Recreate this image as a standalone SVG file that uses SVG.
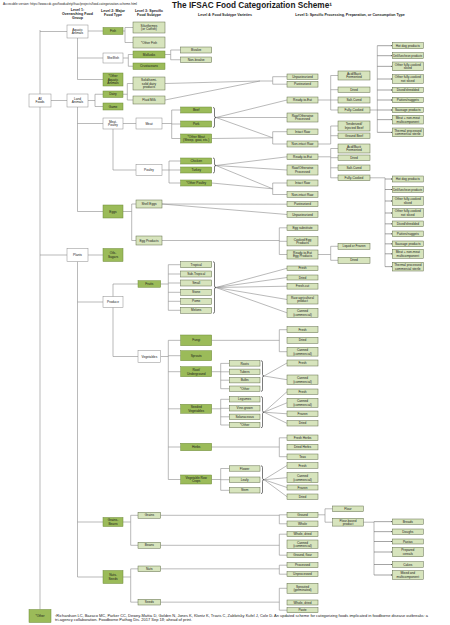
<svg xmlns="http://www.w3.org/2000/svg" width="450" height="625" viewBox="0 0 450 625">
<defs>
<style>
text{font-family:"Liberation Sans",Arial,sans-serif;fill:#1a1a1a}
.t{font-size:3.2px;text-anchor:middle}
.h{font-size:3.6px;font-weight:bold;text-anchor:middle}
.dg{fill:#9bbb59;stroke:#6e8a3a;stroke-width:.5}
.lg{fill:#d7e4bd;stroke:#5f6b48;stroke-width:.5}
.wh{fill:#fff;stroke:#8a8a8a;stroke-width:.5}
.c path{fill:none;stroke:#8c8c8c;stroke-width:.6}
.c path.b{stroke:#222}
.c path.a{stroke:#666;marker-end:url(#ar)}
</style>
<marker id="ar" viewBox="0 0 6 6" refX="6" refY="3" markerWidth="3" markerHeight="3" orient="auto"><path d="M0,0L6,3L0,6z" fill="#444"/></marker>
</defs>
<rect width="450" height="625" fill="#fff"/>
<text x="3" y="4.5" font-size="2.6" textLength="134" lengthAdjust="spacingAndGlyphs">Accessible version: https://www.cdc.gov/foodsafety/ifsac/projects/food-categorization-scheme.html</text>
<text x="172" y="8.3" font-size="8.4" font-weight="bold" textLength="160" lengthAdjust="spacingAndGlyphs">The IFSAC Food Categorization Scheme¹</text>
<g id="headers">
<text class="h" x="77.5" y="11">Level 1:<tspan x="77.5" dy="4">Overarching Food</tspan><tspan x="77.5" dy="4">Group</tspan></text>
<text class="h" x="113" y="12">Level 2: Major<tspan x="113" dy="4">Food Type</tspan></text>
<text class="h" x="149" y="12">Level 3: Specific<tspan x="149" dy="4">Food Subtype</tspan></text>
<text class="h" x="225" y="16">Level 4: Food Subtype Varieties</text>
<text class="h" x="350" y="16">Level 5: Specific Processing, Preparation, or Consumption Type</text>
</g>
<g id="connectors" class="c">
<path d="M40,30V609.5M40,31.5H67M51,100.5H67M40,255H67"/>
<path d="M88,31H103M77.5,38V79.5M77.5,58H103M77.5,79.5H103"/>
<path d="M123,31H125M125,27.5V42.5M125,27.5H133M125,42.5H133"/>
<path d="M123,58H128.3M128.3,54.5V66.25M128.3,54.5H133M128.3,66.25H133"/>
<path d="M165,54.5H170.7M170.7,50V59.75M170.7,50H180.7M170.7,59.75H180.7"/>
<path d="M88,100.5H95M95,94.25V106.5M95,94.25H103M95,106.5H103"/>
<path d="M77.5,107V211.5M77.5,123.5H103M77.5,211.5H103"/>
<path d="M123,94.25H127.3M127.3,83.5V100M127.3,83.5H133M127.3,100H133"/>
<path d="M165,83.5L260,81M165,100L260,81M260,81H272.7M272.7,76.7V84.2M272.7,76.7H287M272.7,84.2H287"/>
<path d="M123,123.5H136M113,129V170M113,170H136"/>
<path d="M162,123.5H171.7M171.7,110V138.5M171.7,110H180.7M171.7,124H180.7M171.7,138.5H180.7"/>
<path class="b" d="M213,107.5q1.5,0 1.5,1.5V116q0,1.5 1.5,1.5q-1.5,0-1.5,1.5V126q0,1.5-1.5,1.5"/>
<path d="M216,117.5L287,100M216,117.5L287,117.5M216,117.5L272.7,137.8M211.7,138.5L272.7,137.8M272.7,131.7V144M272.7,131.7H287M272.7,144H287"/>
<path d="M318,100H338M330.7,75.5V110M330.7,75.5H338M330.7,89.7H338M330.7,110H338"/>
<path d="M370,110H377.3M377.3,45.7V132.35"/>
<path class="a" d="M377.3,45.7H392.3"/><path class="a" d="M377.3,55.7H392.3"/><path class="a" d="M377.3,66.35H392.3"/><path class="a" d="M377.3,79H392.3"/><path class="a" d="M377.3,90H392.3"/><path class="a" d="M377.3,100H392.3"/><path class="a" d="M377.3,110H392.3"/><path class="a" d="M377.3,119.65H392.3"/><path class="a" d="M377.3,132.35H392.3"/>
<path d="M318,144H330.7M330.7,126V144M330.7,126H338M330.7,135.7H338"/>
<path d="M162,170H169M169,161V183M169,161H180.7M169,170H180.7M169,183H180.7"/>
<path class="b" d="M213,158q1.5,0 1.5,1.5V164q0,1.5 1.5,1.5q-1.5,0-1.5,1.5V171.5q0,1.5-1.5,1.5"/>
<path d="M216,165.5L287,156.8M216,165.5L287,170M216,165.5L272.7,188.8M211.7,183L272.7,188.8M272.7,183V194.5M272.7,183H287M272.7,194.5H287"/>
<path d="M318,156.8H330.7M330.7,148.5V177.8M330.7,148.5H338M330.7,157.7H338M330.7,167.8H338M330.7,177.8H338"/>
<path d="M370,177.8H385M385,177.8V266.65"/>
<path class="a" d="M385,179H392.3"/><path class="a" d="M385,189.5H392.3"/><path class="a" d="M385,201H392.3"/><path class="a" d="M385,213H392.3"/><path class="a" d="M385,223.85H392.3"/><path class="a" d="M385,233.85H392.3"/><path class="a" d="M385,243.85H392.3"/><path class="a" d="M385,253.8H392.3"/><path class="a" d="M385,266.65H392.3"/>
<path d="M123,211.5H131.7M131.7,204V240.5M131.7,204H136M131.7,240.5H136"/>
<path d="M162,204L287,204.2M162,204L287,214.5"/>
<path d="M162,240.5H279.3M279.3,227.8V254.5M279.3,227.8H287M279.3,241.3H287M279.3,254.5H287"/>
<path d="M318,254.5H330.7M330.7,246.3V260.3M330.7,246.3H338M330.7,260.3H338"/>
<path d="M88,255H103M77.5,261.5V577M77.5,302H103M77.5,522H103M77.5,577H103"/>
<path d="M113,284V356.5M113,284H138M113,356.5H138"/>
<path d="M160.7,284H168.3M168.3,264.7V310.3M168.3,264.7H180.7M168.3,274H180.7M168.3,283H180.7M168.3,292.3H180.7M168.3,301.3H180.7M168.3,310.3H180.7"/>
<path class="b" d="M213,261.7q1.5,0 1.5,1.5V286q0,1.5 1.5,1.5q-1.5,0-1.5,1.5V311.8q0,1.5-1.5,1.5"/>
<path d="M216,287.5L287,268.3M216,287.5L287,277.5M216,287.5L287,286.2M216,287.5L287,299.5M216,287.5L287,312.8"/>
<path d="M160.7,356.5H168.3M168.3,340.35V479.5M168.3,340.35H180.7M168.3,355.7H180.7M168.3,371.7H180.7M168.3,408.8H180.7M168.3,447H180.7M168.3,479.5H180.7"/>
<path d="M211.7,340.35H279.3M279.3,329.7V351.7M279.3,329.7H287M279.3,351.7H287"/>
<path d="M211.7,371.7H220.7M220.7,363.4V388.7M220.7,363.4H229.3M220.7,371.8H229.3M220.7,380.2H229.3M220.7,388.7H229.3"/>
<path class="b" d="M261,360.7q1.5,0 1.5,1.5V374.5q0,1.5 1.5,1.5q-1.5,0-1.5,1.5V389.9q0,1.5-1.5,1.5"/>
<path d="M264,376L287,363M264,376L287,379.7"/>
<path d="M211.7,408.8H220.7M220.7,399.3V425M220.7,399.3H229.3M220.7,408.3H229.3M220.7,416.8H229.3M220.7,425H229.3"/>
<path class="b" d="M261,396.6q1.5,0 1.5,1.5V410.7q0,1.5 1.5,1.5q-1.5,0-1.5,1.5V426.2q0,1.5-1.5,1.5"/>
<path d="M264,412.2L287,391.7M264,412.2L287,402.8M264,412.2L287,413.8M264,412.2L287,423.35"/>
<path d="M211.7,447H279.3M279.3,437.8V456.7M279.3,437.8H287M279.3,456.7H287"/>
<path d="M211.7,479.5H220.7M220.7,468.5V490.3M220.7,468.5H229.3M220.7,479.7H229.3M220.7,490.3H229.3"/>
<path class="b" d="M261,465.8q1.5,0 1.5,1.5V478.2q0,1.5 1.5,1.5q-1.5,0-1.5,1.5V492.1q0,1.5-1.5,1.5"/>
<path d="M264,479.7L287,465.5M264,479.7L287,477.7M264,479.7L287,487.5M264,479.7L287,496.7"/>
<path d="M123,522H130.7M130.7,515.3V545.3M130.7,515.3H138M130.7,545.3H138"/>
<path d="M160.7,515.3H279.3M279.3,514.8V523.8M279.3,514.8H287M279.3,523.8H287"/>
<path d="M318,514.8H325M325,508.8V522.2M325,508.8H332.7M325,522.2H332.7"/>
<path d="M363.3,522.2H374M374,521.65V575"/>
<path class="a" d="M374,521.65H392.3"/><path class="a" d="M374,531.65H392.3"/><path class="a" d="M374,541.5H392.3"/><path class="a" d="M374,552H392.3"/><path class="a" d="M374,564.5H392.3"/><path class="a" d="M374,575H392.3"/>
<path d="M160.7,545.3H279.3M279.3,534.2V555.2M279.3,534.2H287M279.3,555.2H287"/>
<path d="M123,577H130.7M130.7,568.85V602.15M130.7,568.85H138M130.7,602.15H138"/>
<path d="M160.7,568.85H279.3M279.3,565.2V574.2M279.3,565.2H287M279.3,574.2H287"/>
<path d="M160.7,602.15H279.3M279.3,588.3V610.2M279.3,588.3H287M279.3,610.2H287"/>
</g>
<g id="all-foods"><rect class="wh" x="29" y="94" width="22" height="13"/><text class="t" x="40" y="99.8">All<tspan x="40" dy="3.6">Foods</tspan></text></g>
<g id="aquatic-animals"><rect class="wh" x="67" y="25" width="21" height="13"/><text class="t" x="77.5" y="30.8">Aquatic<tspan x="77.5" dy="3.6">Animals</tspan></text></g>
<g id="land-animals"><rect class="wh" x="67" y="94" width="21" height="13"/><text class="t" x="77.5" y="99.8">Land<tspan x="77.5" dy="3.6">Animals</tspan></text></g>
<g id="plants"><rect class="wh" x="67" y="248.5" width="21" height="13"/><text class="t" x="77.5" y="256.1">Plants</text></g>
<g id="other"><rect class="dg" x="29" y="609.5" width="22" height="13"/><text class="t" x="40" y="617.1">*Other</text></g>
<g id="fish"><rect class="dg" x="103" y="27.5" width="20" height="7"/><text class="t" x="113" y="32.1">Fish</text></g>
<g id="shellfish"><rect class="wh" x="103" y="53" width="20" height="10"/><text class="t" x="113" y="59.1">Shellfish</text></g>
<g id="other-aquatic"><rect class="dg" x="103" y="73" width="20" height="13"/><text class="t" x="113" y="77">*Other<tspan x="113" dy="3.6">Aquatic</tspan><tspan x="113" dy="3.6">Animals</tspan></text></g>
<g id="dairy"><rect class="dg" x="103" y="91" width="20" height="6.5"/><text class="t" x="113" y="95.35">Dairy</text></g>
<g id="game"><rect class="dg" x="103" y="103" width="20" height="7"/><text class="t" x="113" y="107.6">Game</text></g>
<g id="meat-poultry"><rect class="wh" x="103" y="118" width="20" height="11"/><text class="t" x="113" y="122.8">Meat-<tspan x="113" dy="3.6">Poultry</tspan></text></g>
<g id="eggs"><rect class="dg" x="103" y="205" width="20" height="13"/><text class="t" x="113" y="212.6">Eggs</text></g>
<g id="oils-sugars"><rect class="dg" x="103" y="248.5" width="20" height="13"/><text class="t" x="113" y="254.3">Oils-<tspan x="113" dy="3.6">Sugars</tspan></text></g>
<g id="produce"><rect class="wh" x="103" y="296.5" width="20" height="11"/><text class="t" x="113" y="303.1">Produce</text></g>
<g id="grains-beans"><rect class="dg" x="103" y="517.5" width="20" height="9"/><text class="t" x="113" y="521.3">Grains-<tspan x="113" dy="3.6">Beans</tspan></text></g>
<g id="nuts-seeds"><rect class="dg" x="103" y="570.5" width="20" height="13"/><text class="t" x="113" y="576.3">Nuts-<tspan x="113" dy="3.6">Seeds</tspan></text></g>
<g id="siluriformes"><rect class="lg" x="133" y="22" width="32" height="11"/><text class="t" x="149" y="26.8">Siluriformes<tspan x="149" dy="3.6">(or Catfish)</tspan></text></g>
<g id="other-fish"><rect class="lg" x="133" y="37" width="32" height="11"/><text class="t" x="149" y="43.6">*Other Fish</text></g>
<g id="mollusks"><rect class="dg" x="133" y="51" width="32" height="7"/><text class="t" x="149" y="55.6">Mollusks</text></g>
<g id="crustaceans"><rect class="dg" x="133" y="63" width="32" height="6.5"/><text class="t" x="149" y="67.35">Crustaceans</text></g>
<g id="solid-dairy"><rect class="lg" x="133" y="77" width="32" height="13"/><text class="t" x="149" y="81">Solid/semi-<tspan x="149" dy="3.6">solid dairy</tspan><tspan x="149" dy="3.6">products</tspan></text></g>
<g id="fluid-milk"><rect class="lg" x="133" y="96" width="32" height="8"/><text class="t" x="149" y="101.1">Fluid Milk</text></g>
<g id="meat"><rect class="wh" x="136" y="118" width="26" height="11"/><text class="t" x="149" y="124.6">Meat</text></g>
<g id="poultry"><rect class="wh" x="136" y="164.5" width="26" height="11"/><text class="t" x="149" y="171.1">Poultry</text></g>
<g id="shell-eggs"><rect class="lg" x="136" y="200" width="26" height="8"/><text class="t" x="149" y="205.1">Shell Eggs</text></g>
<g id="egg-products"><rect class="lg" x="136" y="236" width="26" height="9"/><text class="t" x="149" y="241.6">Egg Products</text></g>
<g id="fruits"><rect class="dg" x="138" y="280.7" width="22.7" height="6.6"/><text class="t" x="149.35" y="285.1">Fruits</text></g>
<g id="vegetables"><rect class="wh" x="138" y="350.7" width="22.7" height="11.6"/><text class="t" x="149.35" y="357.6">Vegetables</text></g>
<g id="grains"><rect class="lg" x="138" y="512.3" width="22.7" height="6"/><text class="t" x="149.35" y="516.4">Grains</text></g>
<g id="beans"><rect class="lg" x="138" y="542.3" width="22.7" height="6"/><text class="t" x="149.35" y="546.4">Beans</text></g>
<g id="nuts"><rect class="lg" x="138" y="566" width="22.7" height="5.7"/><text class="t" x="149.35" y="569.95">Nuts</text></g>
<g id="seeds"><rect class="lg" x="138" y="599.3" width="22.7" height="5.7"/><text class="t" x="149.35" y="603.25">Seeds</text></g>
<g id="bivalve"><rect class="lg" x="180.7" y="47" width="31" height="6"/><text class="t" x="196.2" y="51.1">Bivalve</text></g>
<g id="non-bivalve"><rect class="lg" x="180.7" y="57" width="31" height="5.5"/><text class="t" x="196.2" y="60.85">Non-bivalve</text></g>
<g id="beef"><rect class="dg" x="180.7" y="107" width="31" height="6"/><text class="t" x="196.2" y="111.1">Beef</text></g>
<g id="pork"><rect class="dg" x="180.7" y="121" width="31" height="6"/><text class="t" x="196.2" y="125.1">Pork</text></g>
<g id="other-meat"><rect class="dg" x="180.7" y="134" width="31" height="9"/><text class="t" x="196.2" y="137.8">*Other Meat<tspan x="196.2" dy="3.6">(Sheep, goat, etc.)</tspan></text></g>
<g id="chicken"><rect class="dg" x="180.7" y="158" width="31" height="6"/><text class="t" x="196.2" y="162.1">Chicken</text></g>
<g id="turkey"><rect class="dg" x="180.7" y="167" width="31" height="6"/><text class="t" x="196.2" y="171.1">Turkey</text></g>
<g id="other-poultry"><rect class="dg" x="180.7" y="180" width="31" height="6"/><text class="t" x="196.2" y="184.1">*Other Poultry</text></g>
<g id="tropical"><rect class="lg" x="180.7" y="261.7" width="31" height="6"/><text class="t" x="196.2" y="265.8">Tropical</text></g>
<g id="sub-tropical"><rect class="lg" x="180.7" y="271" width="31" height="6"/><text class="t" x="196.2" y="275.1">Sub-Tropical</text></g>
<g id="small"><rect class="lg" x="180.7" y="280" width="31" height="6"/><text class="t" x="196.2" y="284.1">Small</text></g>
<g id="stone"><rect class="lg" x="180.7" y="289.3" width="31" height="6"/><text class="t" x="196.2" y="293.4">Stone</text></g>
<g id="pome"><rect class="lg" x="180.7" y="298.3" width="31" height="6"/><text class="t" x="196.2" y="302.4">Pome</text></g>
<g id="melons"><rect class="lg" x="180.7" y="307.3" width="31" height="6"/><text class="t" x="196.2" y="311.4">Melons</text></g>
<g id="fungi"><rect class="dg" x="180.7" y="335" width="31" height="10.7"/><text class="t" x="196.2" y="341.45">Fungi</text></g>
<g id="sprouts"><rect class="dg" x="180.7" y="350.7" width="31" height="10"/><text class="t" x="196.2" y="356.8">Sprouts</text></g>
<g id="root-underground"><rect class="dg" x="180.7" y="366.7" width="31" height="10"/><text class="t" x="196.2" y="371">Root/<tspan x="196.2" dy="3.6">Underground</tspan></text></g>
<g id="seeded-vegetables"><rect class="dg" x="180.7" y="404.3" width="31" height="9"/><text class="t" x="196.2" y="408.1">Seeded<tspan x="196.2" dy="3.6">Vegetables</tspan></text></g>
<g id="herbs"><rect class="dg" x="180.7" y="443.3" width="31" height="7.4"/><text class="t" x="196.2" y="448.1">Herbs</text></g>
<g id="vegetable-row-crops"><rect class="dg" x="180.7" y="475" width="31" height="9"/><text class="t" x="196.2" y="478.8">Vegetable Row<tspan x="196.2" dy="3.6">Crops</tspan></text></g>
<g id="roots"><rect class="lg" x="229.3" y="360.7" width="30.7" height="5.4"/><text class="t" x="244.65" y="364.5">Roots</text></g>
<g id="tubers"><rect class="lg" x="229.3" y="369.1" width="30.7" height="5.4"/><text class="t" x="244.65" y="372.9">Tubers</text></g>
<g id="bulbs"><rect class="lg" x="229.3" y="377.5" width="30.7" height="5.4"/><text class="t" x="244.65" y="381.3">Bulbs</text></g>
<g id="root-other"><rect class="lg" x="229.3" y="386" width="30.7" height="5.4"/><text class="t" x="244.65" y="389.8">*Other</text></g>
<g id="legumes"><rect class="lg" x="229.3" y="396.6" width="30.7" height="5.4"/><text class="t" x="244.65" y="400.4">Legumes</text></g>
<g id="vine-grown"><rect class="lg" x="229.3" y="405.6" width="30.7" height="5.4"/><text class="t" x="244.65" y="409.4">Vine-grown</text></g>
<g id="solanaceous"><rect class="lg" x="229.3" y="414.1" width="30.7" height="5.4"/><text class="t" x="244.65" y="417.9">Solanaceous</text></g>
<g id="seeded-other"><rect class="lg" x="229.3" y="422.3" width="30.7" height="5.4"/><text class="t" x="244.65" y="426.1">*Other</text></g>
<g id="flower"><rect class="lg" x="229.3" y="465.8" width="30.7" height="5.4"/><text class="t" x="244.65" y="469.6">Flower</text></g>
<g id="leafy"><rect class="lg" x="229.3" y="477" width="30.7" height="5.4"/><text class="t" x="244.65" y="480.8">Leafy</text></g>
<g id="stem"><rect class="lg" x="229.3" y="487.6" width="30.7" height="5.4"/><text class="t" x="244.65" y="491.4">Stem</text></g>
<g id="dairy-unpasteurized"><rect class="lg" x="287" y="74" width="31" height="5.4"/><text class="t" x="302.5" y="77.8">Unpasteurized</text></g>
<g id="dairy-pasteurized"><rect class="lg" x="287" y="81.3" width="31" height="5.8"/><text class="t" x="302.5" y="85.3">Pasteurized</text></g>
<g id="meat-rte"><rect class="lg" x="287" y="97" width="31" height="6"/><text class="t" x="302.5" y="101.1">Ready-to-Eat</text></g>
<g id="meat-raw-processed"><rect class="lg" x="287" y="113" width="31" height="9"/><text class="t" x="302.5" y="116.8">Raw/Otherwise<tspan x="302.5" dy="3.6">Processed</tspan></text></g>
<g id="meat-intact-raw"><rect class="lg" x="287" y="129" width="31" height="5.4"/><text class="t" x="302.5" y="132.8">Intact Raw</text></g>
<g id="meat-nonintact-raw"><rect class="lg" x="287" y="141" width="31" height="6"/><text class="t" x="302.5" y="145.1">Non-intact Raw</text></g>
<g id="poultry-rte"><rect class="lg" x="287" y="154" width="31" height="5.6"/><text class="t" x="302.5" y="157.9">Ready-to-Eat</text></g>
<g id="poultry-raw-processed"><rect class="lg" x="287" y="165" width="31" height="10"/><text class="t" x="302.5" y="169.3">Raw/Otherwise<tspan x="302.5" dy="3.6">Processed</tspan></text></g>
<g id="poultry-intact-raw"><rect class="lg" x="287" y="180" width="31" height="6"/><text class="t" x="302.5" y="184.1">Intact Raw</text></g>
<g id="poultry-nonintact-raw"><rect class="lg" x="287" y="191.7" width="31" height="5.6"/><text class="t" x="302.5" y="195.6">Non-intact Raw</text></g>
<g id="egg-pasteurized"><rect class="lg" x="287" y="201.7" width="31" height="5"/><text class="t" x="302.5" y="205.3">Pasteurized</text></g>
<g id="egg-unpasteurized"><rect class="lg" x="287" y="211.7" width="31" height="5.6"/><text class="t" x="302.5" y="215.6">Unpasteurized</text></g>
<g id="egg-substitute"><rect class="lg" x="287" y="225" width="31" height="5.6"/><text class="t" x="302.5" y="228.9">Egg substitute</text></g>
<g id="cooked-egg-products"><rect class="lg" x="287" y="236.7" width="31" height="9.2"/><text class="t" x="302.5" y="240.6">Cooked Egg<tspan x="302.5" dy="3.6">Products</tspan></text></g>
<g id="rte-egg-products"><rect class="lg" x="287" y="250" width="31" height="9"/><text class="t" x="302.5" y="253.8">Ready-to-Eat<tspan x="302.5" dy="3.6">Egg Products</tspan></text></g>
<g id="fruit-fresh"><rect class="lg" x="287" y="266" width="31" height="4.6"/><text class="t" x="302.5" y="269.4">Fresh</text></g>
<g id="fruit-dried"><rect class="lg" x="287" y="275" width="31" height="5"/><text class="t" x="302.5" y="278.6">Dried</text></g>
<g id="fruit-fresh-cut"><rect class="lg" x="287" y="283.3" width="31" height="5.8"/><text class="t" x="302.5" y="287.3">Fresh-cut</text></g>
<g id="fruit-raw-agricultural"><rect class="lg" x="287" y="295" width="31" height="9"/><text class="t" x="302.5" y="298.8">Raw agricultural<tspan x="302.5" dy="3.6">product</tspan></text></g>
<g id="fruit-canned"><rect class="lg" x="287" y="308.3" width="31" height="9"/><text class="t" x="302.5" y="312.1">Canned<tspan x="302.5" dy="3.6">(commercial)</tspan></text></g>
<g id="fungi-fresh"><rect class="lg" x="287" y="326.7" width="31" height="6"/><text class="t" x="302.5" y="330.8">Fresh</text></g>
<g id="fungi-dried"><rect class="lg" x="287" y="337.3" width="31" height="6"/><text class="t" x="302.5" y="341.4">Dried</text></g>
<g id="fungi-canned"><rect class="lg" x="287" y="347.3" width="31" height="8.8"/><text class="t" x="302.5" y="351">Canned<tspan x="302.5" dy="3.6">(commercial)</tspan></text></g>
<g id="root-fresh"><rect class="lg" x="287" y="360" width="31" height="6"/><text class="t" x="302.5" y="364.1">Fresh</text></g>
<g id="root-canned"><rect class="lg" x="287" y="375" width="31" height="9.4"/><text class="t" x="302.5" y="379">Canned<tspan x="302.5" dy="3.6">(commercial)</tspan></text></g>
<g id="seeded-fresh"><rect class="lg" x="287" y="389" width="31" height="5.4"/><text class="t" x="302.5" y="392.8">Fresh</text></g>
<g id="seeded-canned"><rect class="lg" x="287" y="398.3" width="31" height="9"/><text class="t" x="302.5" y="402.1">Canned<tspan x="302.5" dy="3.6">(commercial)</tspan></text></g>
<g id="seeded-frozen"><rect class="lg" x="287" y="411" width="31" height="5.6"/><text class="t" x="302.5" y="414.9">Frozen</text></g>
<g id="seeded-dried"><rect class="lg" x="287" y="420.7" width="31" height="5.3"/><text class="t" x="302.5" y="424.45">Dried</text></g>
<g id="fresh-herbs"><rect class="lg" x="287" y="435" width="31" height="5.6"/><text class="t" x="302.5" y="438.9">Fresh Herbs</text></g>
<g id="dried-herbs"><rect class="lg" x="287" y="444.3" width="31" height="5.6"/><text class="t" x="302.5" y="448.2">Dried Herbs</text></g>
<g id="teas"><rect class="lg" x="287" y="454" width="31" height="5.4"/><text class="t" x="302.5" y="457.8">Teas</text></g>
<g id="row-fresh"><rect class="lg" x="287" y="462.7" width="31" height="5.6"/><text class="t" x="302.5" y="466.6">Fresh</text></g>
<g id="row-canned"><rect class="lg" x="287" y="472.7" width="31" height="10"/><text class="t" x="302.5" y="477">Canned<tspan x="302.5" dy="3.6">(commercial)</tspan></text></g>
<g id="row-frozen"><rect class="lg" x="287" y="485" width="31" height="5"/><text class="t" x="302.5" y="488.6">Frozen</text></g>
<g id="row-dried"><rect class="lg" x="287" y="494" width="31" height="5.4"/><text class="t" x="302.5" y="497.8">Dried</text></g>
<g id="grains-ground"><rect class="lg" x="287" y="512.3" width="31" height="5"/><text class="t" x="302.5" y="515.9">Ground</text></g>
<g id="grains-whole"><rect class="lg" x="287" y="521" width="31" height="5.6"/><text class="t" x="302.5" y="524.9">Whole</text></g>
<g id="beans-whole-dried"><rect class="lg" x="287" y="531.7" width="31" height="5"/><text class="t" x="302.5" y="535.3">Whole, dried</text></g>
<g id="beans-canned"><rect class="lg" x="287" y="540" width="31" height="8.4"/><text class="t" x="302.5" y="543.5">Canned<tspan x="302.5" dy="3.6">(commercial)</tspan></text></g>
<g id="beans-ground"><rect class="lg" x="287" y="552.7" width="31" height="5"/><text class="t" x="302.5" y="556.3">Ground, flour</text></g>
<g id="nuts-processed"><rect class="lg" x="287" y="562.7" width="31" height="5"/><text class="t" x="302.5" y="566.3">Processed</text></g>
<g id="nuts-unprocessed"><rect class="lg" x="287" y="571.7" width="31" height="5"/><text class="t" x="302.5" y="575.3">Unprocessed</text></g>
<g id="seeds-sprouted"><rect class="lg" x="287" y="583.3" width="31" height="10"/><text class="t" x="302.5" y="587.6">Sprouted<tspan x="302.5" dy="3.6">(germinated)</tspan></text></g>
<g id="seeds-whole-dried"><rect class="lg" x="287" y="600" width="31" height="5"/><text class="t" x="302.5" y="603.6">Whole, dried</text></g>
<g id="seeds-paste"><rect class="lg" x="287" y="607.7" width="31" height="5"/><text class="t" x="302.5" y="611.3">Paste</text></g>
<g id="meat-acid-fermented"><rect class="lg" x="338" y="71" width="32" height="9"/><text class="t" x="354" y="74.8">Acid/Bacti<tspan x="354" dy="3.6">Fermented</tspan></text></g>
<g id="meat-dried"><rect class="lg" x="338" y="87" width="32" height="5.4"/><text class="t" x="354" y="90.8">Dried</text></g>
<g id="meat-salt-cured"><rect class="lg" x="338" y="97" width="32" height="6"/><text class="t" x="354" y="101.1">Salt-Cured</text></g>
<g id="meat-fully-cooked"><rect class="lg" x="338" y="107" width="32" height="6"/><text class="t" x="354" y="111.1">Fully-Cooked</text></g>
<g id="tenderized-beef"><rect class="lg" x="338" y="121" width="32" height="10"/><text class="t" x="354" y="125.3">Tenderized/<tspan x="354" dy="3.6">Injected Beef</tspan></text></g>
<g id="ground-beef"><rect class="lg" x="338" y="133" width="32" height="5.4"/><text class="t" x="354" y="136.8">Ground Beef</text></g>
<g id="poultry-acid-fermented"><rect class="lg" x="338" y="144" width="32" height="9"/><text class="t" x="354" y="147.8">Acid/Bacti<tspan x="354" dy="3.6">Fermented</tspan></text></g>
<g id="poultry-dried"><rect class="lg" x="338" y="155" width="32" height="5.4"/><text class="t" x="354" y="158.8">Dried</text></g>
<g id="poultry-salt-cured"><rect class="lg" x="338" y="165" width="32" height="5.6"/><text class="t" x="354" y="168.9">Salt-Cured</text></g>
<g id="poultry-fully-cooked"><rect class="lg" x="338" y="175" width="32" height="5.6"/><text class="t" x="354" y="178.9">Fully-Cooked</text></g>
<g id="liquid-frozen"><rect class="lg" x="338" y="243.3" width="32" height="6"/><text class="t" x="354" y="247.4">Liquid or Frozen</text></g>
<g id="egg-dried"><rect class="lg" x="338" y="257.3" width="32" height="6"/><text class="t" x="354" y="261.4">Dried</text></g>
<g id="flour"><rect class="lg" x="332.7" y="506" width="30.6" height="5.6"/><text class="t" x="348" y="509.9">Flour</text></g>
<g id="flour-based"><rect class="lg" x="332.7" y="518.3" width="30.6" height="7.8"/><text class="t" x="348" y="521.5">Flour-based<tspan x="348" dy="3.6">product</tspan></text></g>
<g id="m-hot-dog"><rect class="lg" x="392.3" y="42.7" width="31" height="6"/><text class="t" x="407.8" y="46.8">Hot dog products</text></g>
<g id="m-deli"><rect class="lg" x="392.3" y="52.7" width="31" height="6"/><text class="t" x="407.8" y="56.8" textLength="29" lengthAdjust="spacingAndGlyphs">Deli/luncheon products</text></g>
<g id="m-other-sliced"><rect class="lg" x="392.3" y="62" width="31" height="8.7"/><text class="t" x="407.8" y="65.65">Other fully-cooked<tspan x="407.8" dy="3.6">sliced</tspan></text></g>
<g id="m-other-not-sliced"><rect class="lg" x="392.3" y="74.7" width="31" height="8.6"/><text class="t" x="407.8" y="78.3">Other fully-cooked<tspan x="407.8" dy="3.6">not sliced</tspan></text></g>
<g id="m-diced"><rect class="lg" x="392.3" y="87.3" width="31" height="5.4"/><text class="t" x="407.8" y="91.1">Diced/shredded</text></g>
<g id="m-patties"><rect class="lg" x="392.3" y="97.3" width="31" height="5.4"/><text class="t" x="407.8" y="101.1">Patties/nuggets</text></g>
<g id="m-sausage"><rect class="lg" x="392.3" y="107.3" width="31" height="5.4"/><text class="t" x="407.8" y="111.1">Sausage products</text></g>
<g id="m-multicomponent"><rect class="lg" x="392.3" y="115.3" width="31" height="8.7"/><text class="t" x="407.8" y="118.95">Meat + non-meat<tspan x="407.8" dy="3.6">multicomponent</tspan></text></g>
<g id="m-thermal"><rect class="lg" x="392.3" y="128" width="31" height="8.7"/><text class="t" x="407.8" y="131.65">Thermal processed<tspan x="407.8" dy="3.6">commercial sterile</tspan></text></g>
<g id="p-hot-dog"><rect class="lg" x="392.3" y="176" width="31" height="6"/><text class="t" x="407.8" y="180.1">Hot dog products</text></g>
<g id="p-deli"><rect class="lg" x="392.3" y="186.7" width="31" height="5.6"/><text class="t" x="407.8" y="190.6" textLength="29" lengthAdjust="spacingAndGlyphs">Deli/luncheon products</text></g>
<g id="p-other-sliced"><rect class="lg" x="392.3" y="196.7" width="31" height="8.6"/><text class="t" x="407.8" y="200.3">Other fully-cooked<tspan x="407.8" dy="3.6">sliced</tspan></text></g>
<g id="p-other-not-sliced"><rect class="lg" x="392.3" y="208.7" width="31" height="8.6"/><text class="t" x="407.8" y="212.3">Other fully-cooked<tspan x="407.8" dy="3.6">not sliced</tspan></text></g>
<g id="p-diced"><rect class="lg" x="392.3" y="221" width="31" height="5.7"/><text class="t" x="407.8" y="224.95">Diced/shredded</text></g>
<g id="p-patties"><rect class="lg" x="392.3" y="231" width="31" height="5.7"/><text class="t" x="407.8" y="234.95">Patties/nuggets</text></g>
<g id="p-sausage"><rect class="lg" x="392.3" y="241" width="31" height="5.7"/><text class="t" x="407.8" y="244.95">Sausage products</text></g>
<g id="p-multicomponent"><rect class="lg" x="392.3" y="249.3" width="31" height="9"/><text class="t" x="407.8" y="253.1">Meat + non-meat<tspan x="407.8" dy="3.6">multicomponent</tspan></text></g>
<g id="p-thermal"><rect class="lg" x="392.3" y="262.3" width="31" height="8.7"/><text class="t" x="407.8" y="265.95">Thermal processed<tspan x="407.8" dy="3.6">commercial sterile</tspan></text></g>
<g id="breads"><rect class="lg" x="392.3" y="519" width="31" height="5.3"/><text class="t" x="407.8" y="522.75">Breads</text></g>
<g id="doughs"><rect class="lg" x="392.3" y="529" width="31" height="5.3"/><text class="t" x="407.8" y="532.75">Doughs</text></g>
<g id="pastas"><rect class="lg" x="392.3" y="539" width="31" height="5"/><text class="t" x="407.8" y="542.6">Pastas</text></g>
<g id="prepared-cereals"><rect class="lg" x="392.3" y="547.3" width="31" height="9.4"/><text class="t" x="407.8" y="551.3">Prepared<tspan x="407.8" dy="3.6">cereals</tspan></text></g>
<g id="cakes"><rect class="lg" x="392.3" y="561.7" width="31" height="5.6"/><text class="t" x="407.8" y="565.6">Cakes</text></g>
<g id="mixed"><rect class="lg" x="392.3" y="570.7" width="31" height="8.6"/><text class="t" x="407.8" y="574.3">Mixed and<tspan x="407.8" dy="3.6">multicomponent</tspan></text></g>
<text x="55" y="616.5" font-size="3" textLength="373" lengthAdjust="spacingAndGlyphs">¹Richardson LC, Bazaco MC, Parker CC, Dewey-Mattia D, Golden N, Jones K, Klontz K, Travis C, Zablotsky Kufel J, Cole D. An updated scheme for categorizing foods implicated in foodborne disease outbreaks: a</text>
<text x="55" y="621" font-size="3" textLength="137" lengthAdjust="spacingAndGlyphs">tri-agency collaboration. Foodborne Pathog Dis. 2017 Sep 18; ahead of print.</text>
</svg>
